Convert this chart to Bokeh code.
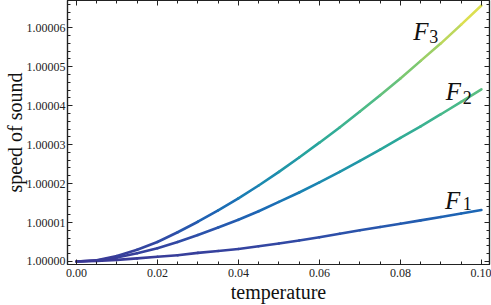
import numpy as np
from bokeh.plotting import figure
from bokeh.models import (Range1d, LinearAxis, SingleIntervalTicker, PrintfTickFormatter,
                          ColumnDataSource, CustomJSTickFormatter)
from bokeh.core.properties import value
from bokeh.embed import file_html
from bokeh.resources import INLINE

# ---- data ----
temperature = [0.0, 0.005, 0.01, 0.015, 0.02, 0.025, 0.03, 0.035, 0.04, 0.045, 0.05,
               0.055, 0.06, 0.065, 0.07, 0.075, 0.08, 0.085, 0.09, 0.095, 0.1]
# speed of sound minus 1, in units of 1e-5
F3 = [0, 0.03, 0.14, 0.30, 0.50, 0.75, 1.02, 1.31, 1.62, 1.95, 2.30,
      2.67, 3.05, 3.44, 3.85, 4.27, 4.70, 5.15, 5.60, 6.08, 6.57]
F2 = [0, 0.025, 0.10, 0.21, 0.34, 0.50, 0.68, 0.87, 1.07, 1.29, 1.53,
      1.77, 2.03, 2.30, 2.58, 2.87, 3.17, 3.47, 3.78, 4.10, 4.42]
F1 = [0, 0.01, 0.04, 0.08, 0.12, 0.16, 0.22, 0.27, 0.32, 0.39, 0.46,
      0.54, 0.62, 0.71, 0.80, 0.885, 0.97, 1.055, 1.14, 1.23, 1.32]
series = [F1, F2, F3]
labels = ["1", "2", "3"]
label_x = [0.0910, 0.0912, 0.0832]
label_y = [1.56, 4.36, 5.90]
sub_x = [0.0954, 0.0954, 0.0871]
sub_y = [1.48, 4.21, 5.77]

# ---- colour scale (by height) ----
stops = [0.0, 0.1, 0.2, 0.3, 0.45, 0.6, 0.75, 0.9, 1.0]
stop_cols = ["#3b3996", "#2e4ea8", "#1b68b6", "#1a86b2", "#27a69c", "#48b98a",
             "#7cc870", "#c2d85a", "#ebe34a"]

def hex2rgb(h):
    return [int(h[i:i+2], 16) for i in (1, 3, 5)]

rgb = np.array([hex2rgb(c) for c in stop_cols], dtype=float)

def cmap(t):
    r = np.interp(t, stops, rgb[:, 0])
    g = np.interp(t, stops, rgb[:, 1])
    b = np.interp(t, stops, rgb[:, 2])
    return "#%02x%02x%02x" % (int(round(r)), int(round(g)), int(round(b)))

ymax = max(max(s) for s in series)

SERIF = "Liberation Serif"

p = figure(width=491, height=305, output_backend="svg", toolbar_location=None, title=None,
           x_range=Range1d(-0.0022, 0.1020),
           y_range=Range1d(1 - 0.078e-5, 1 + 6.70e-5),
           min_border=0, min_border_left=0, min_border_right=2, min_border_top=0,
           min_border_bottom=0,
           x_axis_label="temperature", y_axis_label="speed of sound")
p.grid.visible = False
p.outline_line_color = "#222222"
p.outline_line_width = 1.2
p.background_fill_color = "white"
p.border_fill_color = "white"

xs, ys, cols = [], [], []
for s in series:
    for i in range(len(temperature) - 1):
        xs.append([temperature[i], temperature[i + 1]])
        ys.append([1 + s[i] * 1e-5, 1 + s[i + 1] * 1e-5])
        cols.append(cmap((s[i] + s[i + 1]) / 2 / ymax))
src = ColumnDataSource(dict(xs=xs, ys=ys, c=cols))
p.multi_line("xs", "ys", source=src, line_color="c", line_width=2.6, line_cap="round")

# curve labels
p.text(x=label_x, y=[1 + v * 1e-5 for v in label_y], text=["F"] * 3,
       text_font=value(SERIF), text_font_style="italic", text_font_size="25px",
       text_color="#111111", text_align="left", text_baseline="alphabetic")
p.text(x=sub_x, y=[1 + v * 1e-5 for v in sub_y], text=labels,
       text_font=value(SERIF), text_font_size="18px",
       text_color="#111111", text_align="left", text_baseline="alphabetic")

def style_axis(ax):
    ax.axis_line_color = "#222222"
    ax.axis_line_width = 1.2
    ax.major_tick_in = 5
    ax.major_tick_out = 0
    ax.minor_tick_in = 3
    ax.minor_tick_out = 0
    ax.major_tick_line_color = "#222222"
    ax.minor_tick_line_color = "#222222"
    ax.major_label_text_font = SERIF
    ax.major_label_text_font_size = "12px"
    ax.major_label_text_color = "#222222"
    ax.axis_label_text_font = SERIF
    ax.axis_label_text_font_style = "normal"
    ax.axis_label_text_font_size = "20px"
    ax.axis_label_text_color = "#111111"

p.xaxis.ticker = SingleIntervalTicker(interval=0.02, num_minor_ticks=4)
p.yaxis.ticker = SingleIntervalTicker(interval=1e-5, num_minor_ticks=5)
p.xaxis.formatter = PrintfTickFormatter(format="%.2f")
p.yaxis.formatter = PrintfTickFormatter(format="%.5f")
for ax in p.xaxis:
    style_axis(ax)
    ax.major_label_standoff = 4
    ax.axis_label_standoff = 1
for ax in p.yaxis:
    style_axis(ax)
    ax.major_label_standoff = 2
    ax.axis_label_standoff = -2

blank = CustomJSTickFormatter(code="return ''")
top = LinearAxis(ticker=SingleIntervalTicker(interval=0.02, num_minor_ticks=4), formatter=blank,
                 axis_label=None)
right = LinearAxis(ticker=SingleIntervalTicker(interval=1e-5, num_minor_ticks=5), formatter=blank,
                   axis_label=None)
for ax in (top, right):
    style_axis(ax)
    ax.major_label_standoff = 0
    ax.axis_label_standoff = 0
    ax.major_label_text_font_size = "0px"
    ax.major_label_text_alpha = 0
p.add_layout(top, "above")
p.add_layout(right, "right")

open("out.html", "w").write(file_html(p, INLINE))
